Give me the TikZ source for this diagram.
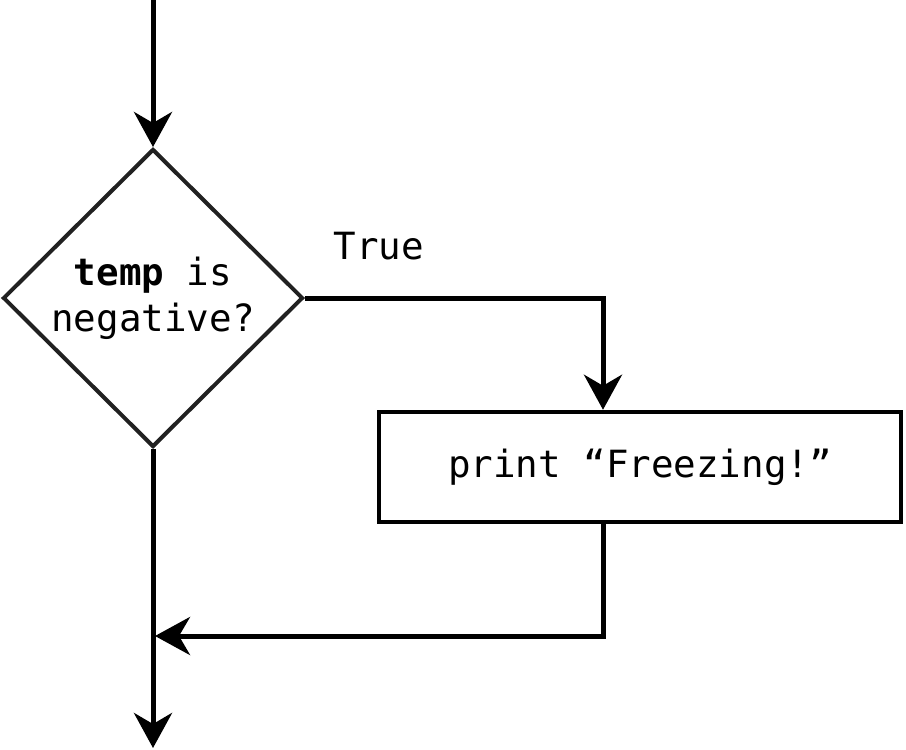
\documentclass[tikz,border=0pt]{standalone}
\usepackage{fontspec}
\setmonofont{DejaVu Sans Mono}
\usetikzlibrary{arrows.meta, shapes.geometric, positioning}

\begin{document}
\begin{tikzpicture}[
        x=1pt, y=1pt,
        every node/.style={font=\ttfamily\fontsize{37.5}{46}\selectfont},
        decision/.style={draw=black!87, diamond, line width=4pt, minimum width=300pt, minimum height=298pt, inner sep=0pt, align=center},
        block/.style={draw, line width=4.5pt, minimum width=522pt, minimum height=110pt, inner sep=0pt},
        arrow/.style={-{Stealth[length=35pt, width=38pt, inset=11pt]}, line width=5pt},
        line/.style={line width=5pt}
    ]

    \useasboundingbox (0,0) rectangle (906,-750);

    \node[decision] (test) at (153,-298) {\textbf{temp} is\\negative?};
    \node[block] (print) at (640,-467) {print “Freezing!”};

    \coordinate (start) at (153,0);
    \coordinate (end) at (153,-748);
    \coordinate (branch) at (603,-298);
    \coordinate (merge) at (155,-636);

    \draw[arrow] (start) -- (test.north);
    \draw[arrow] (test.east) -- (branch) -- (branch |- print.north);
    \node[anchor=south west] (true) at (330,-264) {True};
    \draw[arrow] (branch |- print.south) |- (merge);
    \draw[arrow] (test.south) -- (end);
\end{tikzpicture}
\end{document}
